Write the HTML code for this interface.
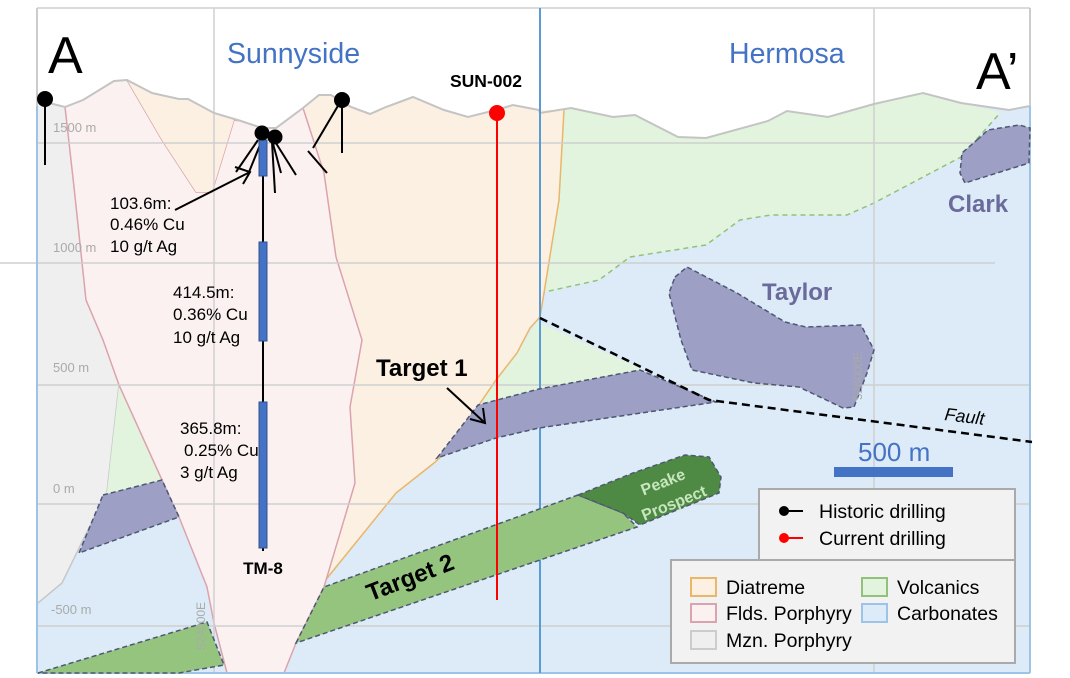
<!DOCTYPE html>
<html><head><meta charset="utf-8"><style>
html,body{margin:0;padding:0;background:#fff}
svg{display:block;font-family:"Liberation Sans",sans-serif}
</style></head><body>
<svg width="1070" height="678" viewBox="0 0 1070 678" xmlns="http://www.w3.org/2000/svg">
<rect width="1070" height="678" fill="#fff"/>
<polygon points="37,100 65,107 83,100 114,81 127,80 152,93 179,99 188,99 214,113 241,121 262,128 276,128 303,108 319,95 331,95 351,107 370,114 386,107 413,97 444,110 468,117 496,110 513,105 539,110 540,113 571,108 613,117 635,115 678,137 706,138 768,121 787,111 828,117 874,104 923,93 961,103 1009,110 1030,106 1030,673 37,673" fill="#dcebf7"/>
<polygon points="540,113 571,108 613,117 635,115 678,137 706,138 768,121 787,111 828,117 874,104 923,93 961,103 1000,112 961,157 874,203 847,215 771,215 740,220 706,245 630,257 599,280 540,293" fill="#e2f4dd"/>
<polyline points="540,293 599,280 630,257 706,245 740,220 771,215 847,215 874,203 961,157 1000,113" fill="none" stroke="#92c27a" stroke-width="1.5" stroke-dasharray="5,4"/>
<polygon points="537,322 644,370 640,370 539,389 478,405 496,380 517,353" fill="#e2f4dd"/>
<polygon points="37,100 65,107 74,187 81,253 86,300 103,340 119,385 107,492 83,540 62,583 38,603" fill="#efefef"/>
<polyline points="119,385 107,492 83,540 62,583 38,603" fill="none" stroke="#c8c8c8" stroke-width="1.5"/>
<polygon points="119,385 162,480 103,495 107,492" fill="#e2f4dd"/>
<polygon points="303,108 319,95 331,95 351,107 370,114 386,107 413,97 444,110 468,117 496,110 513,105 539,110 564,110 559,200 544,293 540,317 530,328 517,353 496,380 448,450 434,463 396,493 324,580 355,483 350,407 362,340 336,257 324,173" fill="#fcf0e2"/>
<polyline points="564,110 559,200 544,293 540,317 530,328 517,353 496,380 448,450 434,463 396,493 324,582" fill="none" stroke="#eab66a" stroke-width="1.5"/>
<polygon points="65,107 83,100 114,81 127,80 162,140 196,192 212,192 234,120 241,121 262,128 276,128 303,108 324,173 336,257 362,340 350,407 355,483 324,587 296,643 284,673 227,673 214,623 207,587 179,517 162,480 119,385 103,340 86,300 81,253 74,187" fill="#fcf1f1" stroke="#dba3ad" stroke-width="1.5"/>
<polygon points="127,80 152,93 179,99 188,99 214,113 234,120 212,192 196,192 162,140" fill="#fcf0e2"/>
<g stroke="#cfcfcf" stroke-width="1.5" fill="none">
<line x1="37" y1="143" x2="1030" y2="143"/>
<line x1="0" y1="263" x2="995" y2="263"/>
<line x1="37" y1="385" x2="1030" y2="385"/>
<line x1="37" y1="504" x2="1030" y2="504"/>
<line x1="37" y1="626" x2="1030" y2="626"/>
<line x1="214" y1="8" x2="214" y2="673"/>
<line x1="874" y1="8" x2="874" y2="673"/>
<line x1="37" y1="8" x2="1030" y2="8"/>
</g>
<polyline points="37,100 65,107 83,100 114,81 127,80 152,93 179,99 188,99 214,113 241,121 262,128 276,128 303,108 319,95 331,95 351,107 370,114 386,107 413,97 444,110 468,117 496,110 513,105 539,110 540,113 571,108 613,117 635,115 678,137 706,138 768,121 787,111 828,117 874,104 923,93 961,103 1009,110 1030,106" fill="none" stroke="#c4c4c4" stroke-width="2"/>
<line x1="37" y1="8" x2="37" y2="673" stroke="#9dc3e6" stroke-width="2"/>
<line x1="1030" y1="8" x2="1030" y2="673" stroke="#9dc3e6" stroke-width="2"/>
<line x1="37" y1="673" x2="1030" y2="673" stroke="#9dc3e6" stroke-width="2"/>
<line x1="37" y1="8" x2="37" y2="106" stroke="#ccc" stroke-width="2"/>
<line x1="1030" y1="8" x2="1030" y2="106" stroke="#ccc" stroke-width="2"/>
<line x1="540" y1="8" x2="540" y2="673" stroke="#5b9bd5" stroke-width="2"/>
<g fill="#9d9fc4" stroke="#4f5873" stroke-width="1.5" stroke-dasharray="5,3">
<polygon points="103,495 162,480 179,517 79,553"/>
<polygon points="437,458 478,405 539,389 640,370 716,402 539,428 496,438"/>
<polygon points="675,277 687,267 737,293 785,322 806,327 861,325 874,350 867,373 854,407 843,408 799,387 754,383 692,370 681,340 669,293"/>
<polygon points="977,140 988,130 1019,125 1030,128 1029,163 965,183 960,173 962,153"/>
</g>
<g fill="#95c47f" stroke="#4f5873" stroke-width="1.5" stroke-dasharray="5,3">
<polygon points="38,673 207,622 224,665 179,673"/>
<polygon points="296,643 324,587 578,495 623,513 637,527"/>
<polygon points="578,495 633,473 685,455 709,457 721,477 719,493 640,525 623,513" fill="#4e8a44"/>
</g>
<text transform="translate(665,487) rotate(-22)" fill="#c8e6bd" font-size="16" font-weight="bold" text-anchor="middle">Peake</text>
<text transform="translate(676,508) rotate(-22)" fill="#c8e6bd" font-size="16" font-weight="bold" text-anchor="middle">Prospect</text>
<text transform="translate(413,585) rotate(-21)" font-size="24" font-weight="bold" text-anchor="middle">Target 2</text>
<polyline points="540,318 709,400 1032,442" fill="none" stroke="#000" stroke-width="2.5" stroke-dasharray="8,5"/>
<text transform="translate(944,420) rotate(7)" font-size="18" font-style="italic">Fault</text>
<text x="762" y="300" fill="#6b6b9b" font-size="24" font-weight="bold">Taylor</text>
<text x="948" y="212" fill="#6b6b9b" font-size="24" font-weight="bold">Clark</text>
<text x="48" y="73" font-size="52">A</text>
<text x="976" y="89" font-size="52">A’</text>
<text x="227" y="63" fill="#4472c4" font-size="28.5">Sunnyside</text>
<text x="729" y="63" fill="#4472c4" font-size="28.5">Hermosa</text>
<text x="450" y="87" font-size="17.5" font-weight="bold">SUN-002</text>
<g fill="#aaa" font-size="13">
<text x="53" y="132">1500 m</text><text x="53" y="252">1000 m</text><text x="53" y="372">500 m</text><text x="53" y="493">0 m</text><text x="51" y="614">-500 m</text>
<text transform="translate(205,650) rotate(-90)" font-size="12">524000E</text>
<text transform="translate(862,400) rotate(-90)" font-size="12">526000E</text>
</g>
<g stroke="#000" stroke-width="2" fill="none">
<line x1="45" y1="99" x2="45" y2="165"/>
<line x1="342" y1="99" x2="342" y2="153"/>
<line x1="342" y1="99" x2="313" y2="148"/>
<line x1="308" y1="151" x2="327" y2="173"/>
<line x1="258" y1="140" x2="236" y2="172"/>
<line x1="262" y1="140" x2="249" y2="172"/>
<line x1="272" y1="142" x2="275" y2="193"/>
<line x1="272" y1="140" x2="281" y2="173"/>
<line x1="274" y1="140" x2="296" y2="175"/>
<line x1="263" y1="140" x2="263" y2="551"/>
<line x1="175" y1="210" x2="250" y2="172"/>
<polyline points="235,167 250,172 243,184"/>
<line x1="447" y1="388" x2="485" y2="423"/>
<polyline points="470,419 485,423 483,408"/>
</g>
<g fill="#4472c4" stroke="#2f528f" stroke-width="1">
<rect x="259" y="140" width="8" height="36"/><rect x="259" y="242" width="8" height="99"/><rect x="259" y="402" width="8" height="146"/>
</g>
<circle cx="45" cy="99" r="8"/><circle cx="342" cy="100" r="8"/><circle cx="262" cy="133" r="7.5"/><circle cx="275" cy="137" r="7.5"/>
<line x1="497" y1="113" x2="497" y2="600" stroke="#f00" stroke-width="2"/>
<circle cx="497" cy="113" r="8" fill="#f00"/>
<g font-size="17">
<text x="110" y="209">103.6m:</text><text x="110" y="230">0.46% Cu</text><text x="110" y="252">10 g/t Ag</text>
<text x="173" y="298">414.5m:</text><text x="173" y="320">0.36% Cu</text><text x="173" y="343">10 g/t Ag</text>
<text x="180" y="434">365.8m:</text><text x="184" y="456">0.25% Cu</text><text x="180" y="478">3 g/t Ag</text>
</g>
<text x="263" y="574" font-size="17" font-weight="bold" text-anchor="middle">TM-8</text>
<text x="376" y="376" font-size="24" font-weight="bold">Target 1</text>
<text x="858" y="461" fill="#4472c4" font-size="26">500 m</text>
<rect x="834" y="467" width="119" height="10" fill="#4472c4"/>
<rect x="759" y="489" width="256" height="71" fill="#f2f2f2" stroke="#aaa" stroke-width="2"/>
<rect x="671" y="560" width="344" height="103" fill="#f2f2f2" stroke="#aaa" stroke-width="2"/>
<line x1="784" y1="511" x2="803" y2="511" stroke="#000" stroke-width="2"/><circle cx="784" cy="511" r="5"/>
<line x1="784" y1="538" x2="803" y2="538" stroke="#f00" stroke-width="2"/><circle cx="784" cy="538" r="5" fill="#f00"/>
<g font-size="19.5">
<text x="819" y="518">Historic drilling</text><text x="819" y="545">Current drilling</text>
<text x="726" y="594">Diatreme</text><text x="897" y="594">Volcanics</text>
<text x="726" y="620">Flds. Porphyry</text><text x="897" y="620">Carbonates</text>
<text x="726" y="647">Mzn. Porphyry</text>
</g>
<g stroke-width="2">
<rect x="691" y="578" width="25" height="18" fill="#fcf0e2" stroke="#eab66a"/>
<rect x="862" y="578" width="25" height="18" fill="#e2f4dd" stroke="#92c27a"/>
<rect x="691" y="604" width="25" height="18" fill="#fcf1f1" stroke="#dba3ad"/>
<rect x="862" y="604" width="25" height="18" fill="#dcebf7" stroke="#9dc3e6"/>
<rect x="691" y="631" width="25" height="18" fill="#efefef" stroke="#ccc"/>
</g>
</svg>
</body></html>
